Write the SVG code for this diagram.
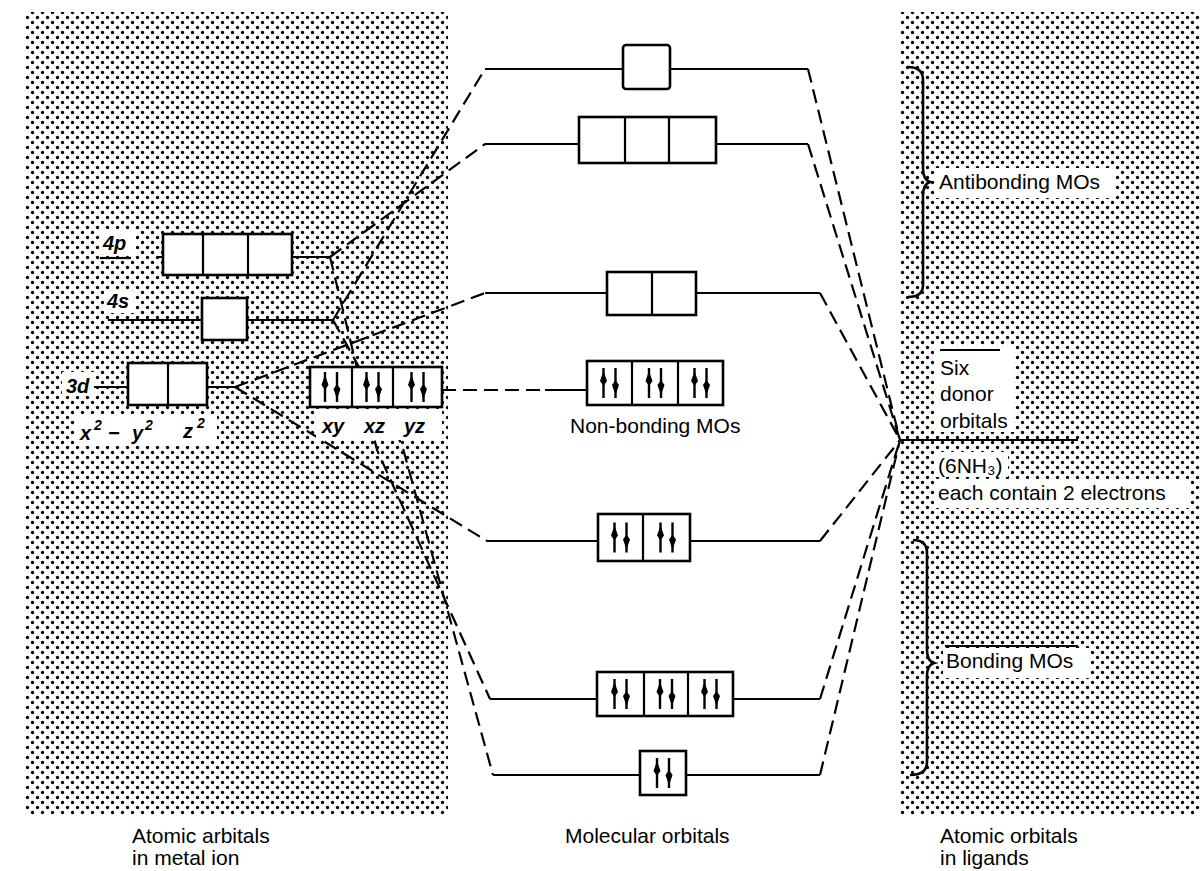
<svg xmlns="http://www.w3.org/2000/svg" width="1200" height="871" viewBox="0 0 1200 871">
<defs>
<pattern id="dots" width="10" height="10" patternUnits="userSpaceOnUse">
<rect width="10" height="10" fill="#fff"/>
<circle cx="2.5" cy="2.5" r="1.65" fill="#000"/>
<circle cx="7.5" cy="7.5" r="1.65" fill="#000"/>
</pattern>
<g id="pair">
<path d="M-6,15 V-15 M6,-15 V15" stroke="#000" stroke-width="2.4" fill="none"/>
<path d="M-6,-12 L-2.5,-2 L-6,3 L-9.5,-2 Z M6,12 L9.5,2 L6,-3 L2.5,2 Z" fill="#000"/>
</g>
</defs>
<style>
.box{fill:#fff;stroke:#000;stroke-width:2.6}
.ln{stroke:#000;stroke-width:2.2;fill:none}
.dash{stroke:#000;stroke-width:2.2;fill:none;stroke-dasharray:14 7}
.brace{stroke:#000;stroke-width:2.6;fill:none}
.wb{fill:#fff}
.t{font-family:"Liberation Sans",Arial,Helvetica,sans-serif;font-size:21px;fill:#000}
.it{font-family:"Liberation Sans",Arial,Helvetica,sans-serif;font-size:20px;font-style:italic;font-weight:bold;fill:#000}
.sup{font-size:14px}
</style>
<rect width="1200" height="871" fill="#fff"/>
<g id="shading">
<rect x="25" y="12" width="423" height="803" fill="url(#dots)"/>
<rect x="900" y="12" width="300" height="803" fill="url(#dots)"/>
</g>
<g id="connectors">
<path class="ln" d="M292,257 H330 M157,257 H163 M108,320 H202 M247,320 H333 M93,387 H128 M207,387 H235"/>
<path class="dash" d="M333,320 L485,69 M330,257 L485,144 M235,387 L485,293 M235,387 L487,541 M330,257 L377,450 L490,699 M333,320 L402,445 L493,775"/>
<path class="dash" d="M442,390 H545"/>
<path class="ln" d="M545,390 H587"/>
<path class="ln" d="M485,69 H623 M670,69 H808 M485,144 H579 M716,144 H808 M485,293 H607 M696,293 H820 M487,541 H598 M690,541 H820 M490,699 H597 M733,699 H820 M493,775 H640 M686,775 H820"/>
<path class="dash" d="M808,69 L900,440 M808,144 L900,440 M820,293 L900,440 M820,541 L900,440 M820,699 L900,440 M820,775 L900,440"/>
<path class="ln" d="M900,440 H1078"/>
</g>
<g id="label-backgrounds">
<rect class="wb" x="100" y="230" width="36" height="24"/>
<rect class="wb" x="104" y="291" width="30" height="22"/>
<rect class="wb" x="62" y="372" width="32" height="24"/>
<rect class="wb" x="75" y="414" width="142" height="32"/>
<rect class="wb" x="316" y="409" width="126" height="31"/>
<rect class="wb" x="934" y="346" width="80" height="86"/>
<rect class="wb" x="934" y="452" width="74" height="25"/>
<rect class="wb" x="934" y="479" width="256" height="29"/>
<rect class="wb" x="935" y="168" width="180" height="30"/>
<rect class="wb" x="943" y="648" width="146" height="30"/>
</g>
<g id="ao-4p">
<rect class="box" x="163" y="234" width="129" height="41"/>
<path class="ln" d="M203,234 V275 M248,234 V275"/>
<text class="it" x="103" y="250">4p</text>
<path class="ln" d="M100,258 H131"/>
</g>
<g id="ao-4s">
<rect class="box" x="202" y="298" width="45" height="42"/>
<text class="it" x="107" y="308">4s</text>
</g>
<g id="ao-3d-eg">
<rect class="box" x="128" y="363" width="79" height="42"/>
<path class="ln" d="M168,363 V405"/>
<text class="it" x="66" y="393">3d</text>
<text class="it"><tspan x="80" y="440">x</tspan><tspan class="sup" x="94" y="430">2</tspan><tspan x="108" y="440">−</tspan><tspan x="132" y="440">y</tspan><tspan class="sup" x="145" y="430">2</tspan><tspan x="183" y="438">z</tspan><tspan class="sup" x="197" y="428">2</tspan></text>
</g>
<g id="ao-3d-t2g">
<rect class="box" x="310" y="367" width="132" height="40"/>
<path class="ln" d="M352,367 V407 M393,367 V407"/>
<use href="#pair" x="331" y="387"/>
<use href="#pair" x="372.5" y="387"/>
<use href="#pair" x="417.5" y="387"/>
<text class="it" x="322" y="433">xy</text>
<text class="it" x="364" y="433">xz</text>
<text class="it" x="404" y="433">yz</text>
</g>
<g id="mo-a1g-anti">
<rect class="box" x="623" y="45" width="47" height="44" rx="3"/>
</g>
<g id="mo-t1u-anti">
<rect class="box" x="579" y="117" width="137" height="46"/>
<path class="ln" d="M625,117 V163 M669,117 V163"/>
</g>
<g id="mo-eg-anti">
<rect class="box" x="607" y="272" width="89" height="43"/>
<path class="ln" d="M652,272 V315"/>
</g>
<g id="mo-nonbonding">
<rect class="box" x="587" y="361" width="136" height="44"/>
<path class="ln" d="M632,361 V405 M678,361 V405"/>
<use href="#pair" x="609.5" y="383"/>
<use href="#pair" x="655" y="383"/>
<use href="#pair" x="700.5" y="383"/>
<text class="t" x="570" y="433">Non-bonding MOs</text>
</g>
<g id="mo-eg-bonding">
<rect class="box" x="598" y="514" width="92" height="47"/>
<path class="ln" d="M643,514 V561"/>
<use href="#pair" x="620.5" y="537.5"/>
<use href="#pair" x="666.5" y="537.5"/>
</g>
<g id="mo-t1u-bonding">
<rect class="box" x="597" y="672" width="136" height="44"/>
<path class="ln" d="M644,672 V716 M688,672 V716"/>
<use href="#pair" x="620.5" y="694"/>
<use href="#pair" x="666" y="694"/>
<use href="#pair" x="710.5" y="694"/>
</g>
<g id="mo-a1g-bonding">
<rect class="box" x="640" y="751" width="46" height="44"/>
<use href="#pair" x="663" y="773"/>
</g>
<g id="ligand-orbitals">
<path class="ln" d="M940,350 H1000"/>
<text class="t" x="940" y="375">Six</text>
<text class="t" x="940" y="401">donor</text>
<text class="t" x="940" y="428">orbitals</text>
<text class="t" x="938" y="473">(6NH₃)</text>
<text class="t" x="938" y="500">each contain 2 electrons</text>
</g>
<g id="antibonding-brace">
<path class="brace" d="M908,67 Q923,67 923,80 V168 Q923,180 930,182 Q923,184 923,196 V285 Q923,297 908,297"/>
<text class="t" x="939" y="189">Antibonding MOs</text>
</g>
<g id="bonding-brace">
<path class="brace" d="M913,540 Q927,540 927,553 V650 Q927,661 934,663 Q927,665 927,676 V762 Q927,775 910,775"/>
<path class="ln" d="M945,646 H1078"/>
<text class="t" x="946" y="668">Bonding MOs</text>
</g>
<g id="captions">
<text class="t" x="132" y="843">Atomic arbitals</text>
<text class="t" x="132" y="865">in metal ion</text>
<text class="t" x="565" y="843">Molecular orbitals</text>
<text class="t" x="940" y="843">Atomic orbitals</text>
<text class="t" x="940" y="865">in ligands</text>
</g>
</svg>
